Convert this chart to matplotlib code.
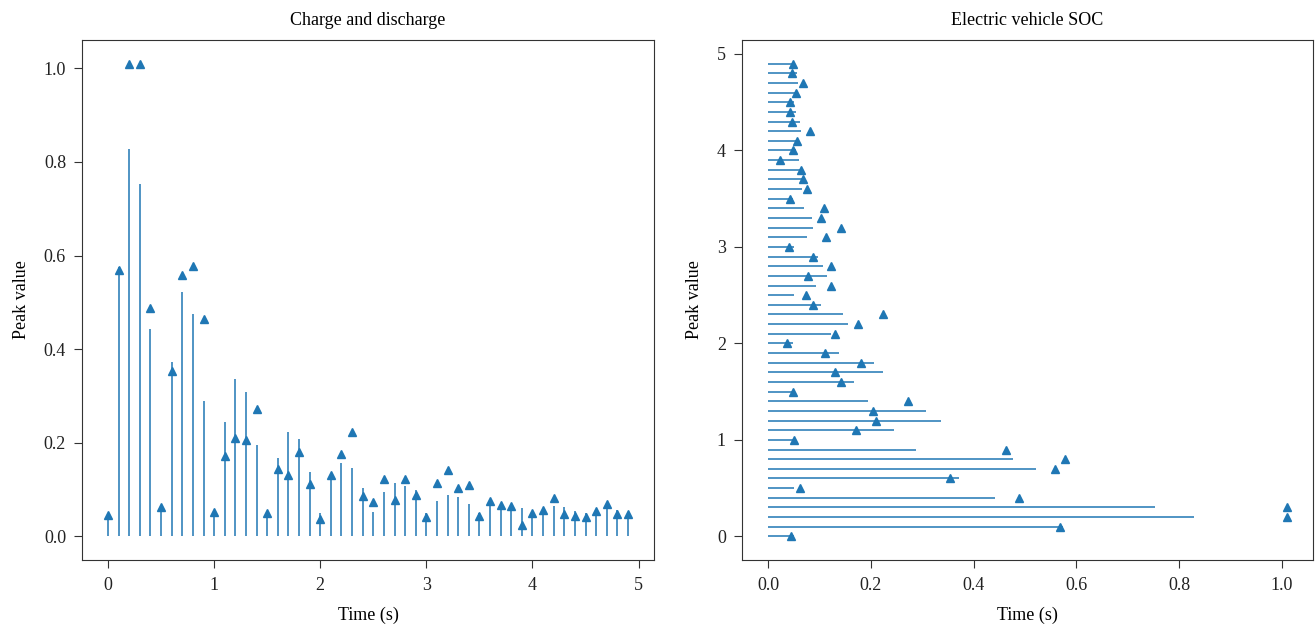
import numpy as np
import matplotlib
matplotlib.use("Agg")
import matplotlib.pyplot as plt

plt.rcParams['font.family'] = ['Liberation Serif', 'DejaVu Serif']
plt.rcParams['font.size'] = 13
plt.rcParams['xtick.major.size'] = 5.5
plt.rcParams['ytick.major.size'] = 5.5
plt.rcParams['xtick.major.pad'] = 7
plt.rcParams['ytick.major.pad'] = 6

# time steps (s)
t = [0.0, 0.1, 0.2, 0.3, 0.4, 0.5, 0.6, 0.7, 0.8, 0.9,
     1.0, 1.1, 1.2, 1.3, 1.4, 1.5, 1.6, 1.7, 1.8, 1.9,
     2.0, 2.1, 2.2, 2.3, 2.4, 2.5, 2.6, 2.7, 2.8, 2.9,
     3.0, 3.1, 3.2, 3.3, 3.4, 3.5, 3.6, 3.7, 3.8, 3.9,
     4.0, 4.1, 4.2, 4.3, 4.4, 4.5, 4.6, 4.7, 4.8, 4.9]

# stem heights
stem = [0.050, 0.575, 0.828, 0.753, 0.442, 0.051, 0.372, 0.522, 0.476, 0.289,
        0.050, 0.245, 0.336, 0.308, 0.195, 0.050, 0.168, 0.224, 0.207, 0.138,
        0.049, 0.122, 0.156, 0.146, 0.103, 0.051, 0.094, 0.114, 0.107, 0.098,
        0.050, 0.076, 0.088, 0.085, 0.070, 0.049, 0.066, 0.066, 0.063, 0.061,
        0.055, 0.054, 0.064, 0.062, 0.055, 0.050, 0.058, 0.058, 0.056, 0.050]

# peak markers
peak = [0.045, 0.569, 1.010, 1.010, 0.488, 0.062, 0.354, 0.559, 0.578, 0.464,
        0.051, 0.171, 0.211, 0.205, 0.272, 0.049, 0.143, 0.131, 0.181, 0.111,
        0.037, 0.131, 0.176, 0.224, 0.087, 0.074, 0.123, 0.078, 0.123, 0.088,
        0.041, 0.113, 0.142, 0.104, 0.109, 0.043, 0.076, 0.068, 0.065, 0.024,
        0.049, 0.057, 0.082, 0.047, 0.043, 0.042, 0.055, 0.069, 0.047, 0.048]

t = np.array(t)
stem = np.array(stem)
peak = np.array(peak)

blue = '#1f77b4'

fig = plt.figure(figsize=(13.16, 6.31), dpi=100)
ax1 = fig.add_axes([82/1316, 71/631, 572/1316, 520/631])
ax2 = fig.add_axes([742/1316, 71/631, 571/1316, 520/631])

# left: stems with markers
ax1.vlines(t, 0, stem, color=blue, linewidth=1.1)
ax1.plot(t, peak, '^', color=blue, markersize=6)
ax1.set_title('Charge and discharge', fontsize=13, pad=11)
ax1.set_xlabel('Time (s)', labelpad=9)
ax1.set_ylabel('Peak value', labelpad=10)
ax1.set_xticks([0, 1, 2, 3, 4, 5])
ax1.set_yticks([0.0, 0.2, 0.4, 0.6, 0.8, 1.0])
ax1.set_yticklabels(['0.0', '0.2', '0.4', '0.6', '0.8', '1.0'])

# right: same thing laid horizontally
ax2.hlines(t, 0, stem, color=blue, linewidth=1.1)
ax2.plot(peak, t, '^', color=blue, markersize=6)
ax2.set_title('Electric vehicle SOC', fontsize=13, pad=11)
ax2.set_xlabel('Time (s)', labelpad=9)
ax2.set_ylabel('Peak value', labelpad=10)
ax2.set_xticks([0.0, 0.2, 0.4, 0.6, 0.8, 1.0])
ax2.set_xticklabels(['0.0', '0.2', '0.4', '0.6', '0.8', '1.0'])
ax2.set_yticks([0, 1, 2, 3, 4, 5])

for ax in (ax1, ax2):
    for s in ax.spines.values():
        s.set_color('#333333')
    ax.tick_params(colors='#333333', labelcolor='#222222')

fig.savefig('out.png', dpi=100)
